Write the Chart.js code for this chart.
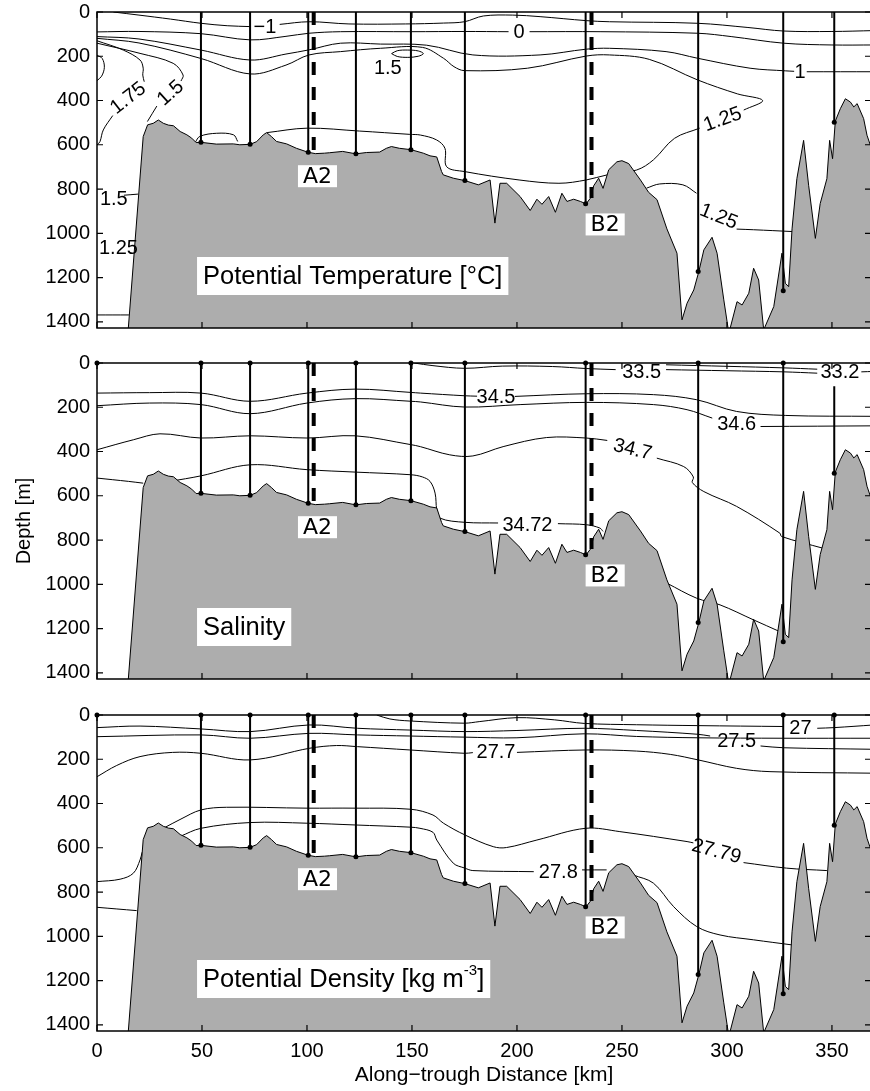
<!DOCTYPE html>
<html>
<head>
<meta charset="utf-8">
<title>Along-trough sections</title>
<script src="https://cdn.jsdelivr.net/npm/chart.js@4.4.1/dist/chart.umd.min.js"></script>
<style>
  html, body { margin: 0; padding: 0; background: #fff; overflow: hidden; }
  #wrap { position: relative; width: 870px; height: 1091px; overflow: hidden; }
  #wrap canvas { position: absolute; left: 0; }
</style>
</head>
<body>
<div id="wrap">
  <canvas id="tempChart" width="880" height="340" style="top:0px"></canvas>
  <canvas id="salChart" width="880" height="340" style="top:351px"></canvas>
  <canvas id="denChart" width="880" height="388" style="top:703px"></canvas>
</div>
<script>
// axes
const xTicks = [0, 50, 100, 150, 200, 250, 300, 350];
const yTicks = [0, 200, 400, 600, 800, 1000, 1200, 1400];

// CTD stations: distance (km) and bottom depth (m)
const stationKm = [49.5, 72.9, 100.6, 123.3, 149.5, 175.2, 232.7, 286.3, 326.8, 351.1];
const stationBottom = [589, 598, 634, 641, 622, 762, 867, 1173, 1260, 498];
const dashedKm = [103.2, 235.5];      // A2, B2
const dashedBottom = [638, 841];

// bathymetry along the trough
const bathyKm = [14.9, 22, 24.1, 26.8, 29.2, 31.6, 34, 36.4, 39.6, 42.8, 45.1, 47.2, 49.5, 56.8, 64.9, 68,
  72.9, 76, 79.2, 80.8, 83.1, 85.5, 90.3, 95, 100.6, 104, 108.3, 110.7, 117, 123.3, 128.3, 134.6, 137.8,
  140.2, 144.1, 149.5, 155.4, 158.6, 161.8, 164.1, 164.9, 169.7, 175.2, 181.6, 187.2, 189.5, 191.9, 195.1,
  201.5, 206.3, 209.5, 211.9, 215.1, 218.3, 221.4, 223.8, 227, 230.2, 232.9, 235, 236.5, 238.9, 241, 243.7,
  247.6, 250, 253.2, 258.8, 262.7, 266.7, 271.4, 276.2, 278.6, 281, 284.2, 286.6, 289, 292.9, 295.3, 298.5,
  300.9, 304.8, 307.2, 310.4, 312.7, 315.1, 317.5, 322.3, 326.2, 327.8, 329.4, 331, 333.3, 336.5, 338.9,
  342.1, 344.4, 347.6, 348.9, 350.3, 351.6, 354, 356.4, 358.8, 360.4, 362, 365.1, 366.7, 368.3, 370];
const bathyDepth = [1430, 563, 510, 503, 488, 503, 511, 514, 540, 555, 570, 590, 589, 597, 596, 600,
  598, 586, 555, 545, 563, 585, 596, 616, 634, 640, 638, 636, 630, 641, 635, 633, 616,
  608, 616, 622, 638, 650, 655, 721, 736, 751, 762, 781, 759, 954, 774, 774,
  834, 897, 846, 869, 834, 905, 819, 856, 846, 856, 867, 841, 786, 751, 797, 713,
  677, 672, 685, 759, 815, 848, 980, 1090, 1391, 1316, 1256, 1173, 1075, 1018, 1090, 1301,
  1452, 1309, 1324, 1271, 1158, 1211, 1436, 1331, 1090, 1226, 1241, 980, 753, 580, 783,
  1023, 866, 753, 580, 663, 493, 437, 392, 407, 429, 414, 482, 557, 602, 640];

// potential temperature contours [km, depth], null = break for a label
const tempM1 = [[7.8,0],[20,14],[35,32],[49.5,51],[62,62],[73,66],null,[87,56],[101,44],[120,54],[147,54],[165,50],[175,44],[184,18],[198,14],[211,21],[233,39],[244,44],[286,51],[310,70],[327,86],[350,88],[370,84]];
const temp0 = [[0,90],[20,88],[49.5,98],[73,126],[90,110],[101,96],[116,89],[150,89],[175,88],[196,89],null,[206,89],[240,89],[286,96],[302,111],[327,141],[350,149],[370,149]];
const temp1 = [[0,111],[20,122],[49.5,172],[73,217],[90,190],[101,171],[116,141],[135,145],[157,150],[179,194],[211,194],[233,168],[244,164],[271,179],[286,209],[311,254],[328,266],[332,268],null,[338,270],[370,270]];
const temp125 = [[0,119],[20,140],[49.5,210],[73,280],[90,240],[101,194],[116,179],[135,164],[155,160],[165,209],[170,247],[175,265],[205,254],[233,199],[244,194],[263,214],[286,307],[305,370],[317,400],[308,443],null,[287,525],[275,571],[265,668],[257,714],[243,736],[233,759],[220,774],[201,759],[175,721],[166.5,699],[165.7,616],[161.7,578],[154,556],[149,553],[125,538],[100,525],[81,545]];
const temp125b = [[261.7,796],[268,777],[279,781],[285.5,819],null,[304.6,981],[312.7,984],[331,992]];
const temp15 = [[0,141],[20.5,187],[36.3,232],[41,285],[40,312],null,[28.5,425],[24,495]];
const temp175 = [[0,130],[12.5,172],[20.5,217],[22,254],[21.8,285],[22.5,315],null,[7.5,468],[3,533],[1.4,586],[0,601]];
const tempBump = [[0,195],[2.5,210],[3.5,250],[2.2,290],[0,310]];
const tempCell = [[140.3,188],[143,175],[148,172],[153,176],[155.4,188],[153,200],[148,205],[143,201],[140.3,188]];
const tempPatch = [[46.7,590],[49,562],[57,548],[65,555],[67,585]];
const temp15b = [[12.8,828],[19.5,823]];
const tempDeep = [[0,1369],[15.2,1369]];
const tempLabels = [['\u22121',80,68,0],['0',201,92,0],['1.5',138.5,254,0],['1',334.8,272,0],['1.75',14.9,390,-38],
  ['1.5',35.1,367,-42],['1.25',298,486,-20],['1.25',296,925,22],['1.5',8,845,0],['1.25',10.2,1067,0]];

// salinity contours
const sal335 = [[151,0],[160,12],[175,24],[193,14],[217,16],[233,25],[247,30],null,[271,8],[300,15],[327,22],[343,28],null,[364,40],[370,38]];
const sal332 = [[271,30],[300,35],[327,40],[343,46]];
const sal345 = [[0,136],[25,134],[49.5,136],[73,173],[100,136],[123,118],[149.5,133],[154,136],[175,148],[181,150],null,[199,151],[233,139],[265,143],[285.6,166],[304.6,219],[328,237],[370,241]];
const sal346 = [[0,193],[25,181],[49.5,188],[73,229],[100,181],[123,161],[149.5,173],[154,176],[175,199],[201.5,188],[233,178],[265,188],[281,211],[293,249],null,[316,287],[370,284]];
const sal347 = [[0,392],[17.3,347],[30,320],[49.5,339],[73,329],[100,339],[123,329],[149.5,369],[154,378],[168,415],[179,420],[193.4,378],[214,337],[233,339],[243,350],null,[266.6,430],[279.4,468],[284,515],[283.5,540],[289,581],[304.6,648],[325.2,769],[326,784],[345.7,837]];
const sal3472a = [[0,520],[15,535],[22,543]];
const sal3472 = [[34.8,535],[49.5,510],[73,460],[100,482],[123,493],[149.5,505],[155,515],[158.6,535],[161,588],[161.8,663],[163.3,701],[175.2,720],[191,723],null,[219.5,726],[233.2,731],[239.5,746],[241,761]];
const salDeep = [[271.4,995],[285.6,1063],[296.7,1093],[312.7,1161],[325.2,1214]];
const salLabels = [['34.5',190,158,0],['34.6',304.6,279,0],['34.7',255,392,14],['34.72',205,734,0],['33.5',259.4,45,0],['33.2',353.8,45,0]];

// potential density contours
const den27 = [[133.2,0],[139.5,18],[149,27],[175,37],[182,30],[200,12],[218,22],[232,38],[257,44],[286,48],[326.8,52],null,[343,60],[351,57],[370,45]];
const den275 = [[0,57],[20.5,50],[49.5,63],[73,75],[101,45],[124,60],[149,68],[175,75],[200,70],[232,60],[257,70],[286,87],[292,95],null,[316,140],[327,148],[370,155]];
const den276 = [[0,98],[49.5,90],[73,105],[101,83],[124,90],[149,95],[175,100],[200,103],[232,85],[257,97],[286,103],[327,105],[370,105]];
const den277 = [[0,279],[9.4,228],[20.5,188],[36,169],[49.5,173],[73,203],[101.4,150],[114,138],[124,143],[149,158],[175,173],[179,170],null,[200,169],[233,158],[257,163],[273,178],[286.3,203],[304.6,241],[320.5,256],[370,263]];
const den2779a = [[0,753],[11,742],[17.3,715],[20.5,655],[21.5,620]];
const den2779 = [[31.6,512],[40,470],[49.5,429],[61.7,417],[100,421],[123,421],[149.5,426],[160,452],[165,489],[175.2,542],[188.7,595],[195,599],[209.5,565],[232.7,512],[249,527],[281,572],[284,578],null,[307.9,667],[328.4,692],[347.6,703]];
const den278a = [[0,869],[18.9,884]];
const den278 = [[39.5,549],[49.5,512],[73,486],[100,489],[123,497],[149.5,507],[153.8,512],[160,530],[161.8,565],[169.7,670],[175.2,692],[179,703],[208,708],null,[231,700],[242.7,700]];
const den278b = [[255.4,723],[265,760],[274.6,866],[285.6,956],[296.7,994],[312.7,1016],[331,1039]];
const denLabels = [['27.7',190,170,0],['27.5',304.6,120,0],['27',335,63,0],['27.79',295,617,15],['27.8',219.7,710,0]];

const FAMILY = '"Liberation Sans", Arial, Helvetica, sans-serif';
const pts = arr => arr.map(p => p ? { x: p[0], y: p[1] } : { x: null, y: null });

function annotations(cfg) {
  return {
    id: 'annot',
    afterDatasetsDraw(chart) {
      const { ctx, chartArea: a } = chart;
      const x = chart.scales.x, y = chart.scales.y;
      ctx.save();
      ctx.fillStyle = '#000';
      ctx.textAlign = 'center';
      ctx.textBaseline = 'middle';
      ctx.font = '20px ' + FAMILY;
      cfg.labels.forEach(([t, k, d, ang]) => {
        ctx.save();
        ctx.translate(x.getPixelForValue(k), y.getPixelForValue(d));
        ctx.rotate(ang * Math.PI / 180);
        ctx.fillText(t, 0, 0);
        ctx.restore();
      });

      // white boxes with text (station names, panel names)
      cfg.boxes.forEach(b => {
        let w = 0;
        b.parts.forEach(([t, s]) => { ctx.font = s + 'px ' + b.family; w += ctx.measureText(t).width; });
        const cy = y.getPixelForValue(b.d);
        let left = x.getPixelForValue(b.km);
        if (b.align === 'center') left -= w / 2;
        ctx.fillStyle = '#fff';
        ctx.fillRect(left - b.padX, cy - b.h / 2, w + 2 * b.padX, b.h);
        ctx.fillStyle = '#000';
        ctx.textAlign = 'left';
        let cx = left;
        b.parts.forEach(([t, s, rise]) => {
          ctx.font = s + 'px ' + b.family;
          ctx.fillText(t, cx, cy + 1 + rise);
          cx += ctx.measureText(t).width;
        });
      });

      // box frame with inward ticks
      ctx.strokeStyle = '#000';
      ctx.lineWidth = 1.5;
      ctx.strokeRect(a.left, a.top, a.right - a.left, a.bottom - a.top);
      ctx.lineWidth = 1.2;
      ctx.beginPath();
      xTicks.forEach(v => {
        const px = x.getPixelForValue(v);
        ctx.moveTo(px, a.bottom); ctx.lineTo(px, a.bottom - 6);
        ctx.moveTo(px, a.top); ctx.lineTo(px, a.top + 6);
      });
      yTicks.forEach(v => {
        const py = y.getPixelForValue(v);
        ctx.moveTo(a.left, py); ctx.lineTo(a.left + 6, py);
        ctx.moveTo(a.right, py); ctx.lineTo(a.right - 6, py);
      });
      ctx.stroke();
      ctx.restore();
    }
  };
}

function stationBoxes(extra) {
  return [
    { parts: [['A2', 22, 0]], km: 105, d: 742, align: 'center', padX: 5, h: 22, family: '"DejaVu Sans", sans-serif' },
    { parts: [['B2', 22, 0]], km: 242, d: 960, align: 'center', padX: 5, h: 22, family: '"DejaVu Sans", sans-serif' },
    { parts: extra, km: 50.5, d: 1193, align: 'left', padX: 6, h: 38, family: FAMILY }
  ];
}

function buildChart(id, opts) {
  const datasets = [];
  opts.contours.forEach(c => datasets.push({
    data: pts(c), borderColor: '#000', borderWidth: 1, pointRadius: 0,
    tension: 0.35, spanGaps: false, fill: false, order: 3
  }));
  datasets.push({
    data: bathyKm.map((k, i) => ({ x: k, y: bathyDepth[i] })),
    borderColor: '#000', borderWidth: 1, backgroundColor: '#adadad',
    fill: { value: 1600 }, pointRadius: 0, tension: 0, order: 2
  });
  stationKm.forEach((k, i) => datasets.push({
    data: [{ x: k, y: opts.stationTop[i] }, { x: k, y: stationBottom[i] }],
    borderColor: '#000', borderWidth: 2, fill: false,
    pointRadius: [opts.topDots && opts.stationTop[i] === 0 ? 2.5 : 0, 2.5],
    pointBackgroundColor: '#000', pointBorderWidth: 0, clip: 6, order: 1
  }));
  if (opts.topDots) {
    datasets.push({
      data: [{ x: 0, y: 0 }], showLine: false, pointRadius: 2.5,
      pointBackgroundColor: '#000', pointBorderWidth: 0, clip: 6, order: 1
    });
  }
  dashedKm.forEach((k, i) => datasets.push({
    data: [{ x: k, y: 0 }, { x: k, y: dashedBottom[i] }],
    borderColor: '#000', borderWidth: 4, borderDash: [13, 12], borderCapStyle: 'butt',
    pointRadius: 0, fill: false, order: 0
  }));

  const tickFont = { family: FAMILY, size: 20 };
  return new Chart(document.getElementById(id), {
    type: 'line',
    data: { datasets },
    options: {
      responsive: false,
      animation: false,
      events: [],
      layout: { padding: { top: 12, right: 9, left: 0, bottom: 0 } },
      plugins: { legend: { display: false }, tooltip: { enabled: false } },
      scales: {
        x: {
          type: 'linear', min: 0, max: 368.6,
          afterBuildTicks: s => { s.ticks = xTicks.map(v => ({ value: v })); },
          afterFit: s => { s.height = opts.xHeight; s.paddingLeft = 0; s.paddingRight = 0; },
          grid: { display: false, drawTicks: false },
          border: { display: false },
          ticks: { display: opts.showX, font: tickFont, color: '#000', padding: 8, maxRotation: 0, autoSkip: false, callback: v => String(v) },
          title: { display: opts.showX, text: 'Along\u2212trough Distance [km]', font: { family: FAMILY, size: 21 }, color: '#000', padding: { top: 0, bottom: 3 } }
        },
        y: {
          type: 'linear', reverse: true, min: 0, max: 1428,
          afterBuildTicks: s => { s.ticks = yTicks.map(v => ({ value: v })); },
          afterFit: s => { s.width = 97; s.paddingTop = 0; s.paddingBottom = 0; },
          grid: { display: false, drawTicks: false },
          border: { display: false },
          ticks: { font: tickFont, color: '#000', padding: 7, autoSkip: false, callback: v => String(v) },
          title: { display: opts.showY, text: 'Depth [m]', font: tickFont, color: '#000', padding: { top: 12, bottom: 0 } }
        }
      }
    },
    plugins: [annotations(opts)]
  });
}

const zeros = stationKm.map(() => 0);

buildChart('tempChart', {
  contours: [tempM1, temp0, temp1, temp125, temp125b, temp15, temp175, tempBump, tempCell, tempPatch, temp15b, tempDeep],
  labels: tempLabels,
  boxes: stationBoxes([['Potential Temperature [\u00b0C]', 25.5, 0]]),
  stationTop: zeros, topDots: false, showX: false, showY: false, xHeight: 12
});

buildChart('salChart', {
  contours: [sal335, sal332, sal345, sal346, sal347, sal3472a, sal3472, salDeep],
  labels: salLabels,
  boxes: stationBoxes([['Salinity', 25.5, 0]]),
  stationTop: [0, 0, 0, 0, 0, 0, 0, 0, 0, 105], topDots: true, showX: false, showY: true, xHeight: 12
});

buildChart('denChart', {
  contours: [den27, den275, den276, den277, den2779a, den2779, den278a, den278, den278b],
  labels: denLabels,
  boxes: stationBoxes([['Potential Density [kg m', 25.5, 0], ['-3', 15, -9], [']', 25.5, 0]]),
  stationTop: zeros, topDots: true, showX: true, showY: false, xHeight: 60
});
</script>
</body>
</html>
